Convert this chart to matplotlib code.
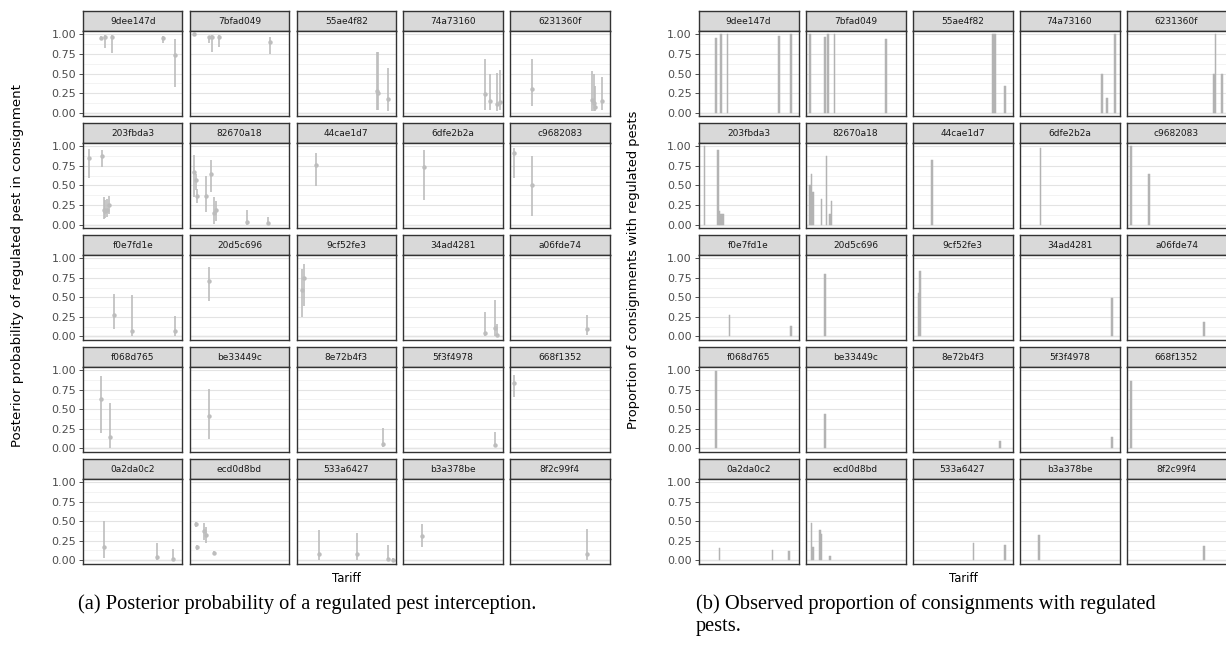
import numpy as np
import matplotlib.pyplot as plt

W, H = 1226, 647

facets = ["9dee147d", "7bfad049", "55ae4f82", "74a73160", "6231360f",
          "203fbda3", "82670a18", "44cae1d7", "6dfe2b2a", "c9682083",
          "f0e7fd1e", "20d5c696", "9cf52fe3", "34ad4281", "a06fde74",
          "f068d765", "be33449c", "8e72b4f3", "5f3f4978", "668f1352",
          "0a2da0c2", "ecd0d8bd", "533a6427", "b3a378be", "8f2c99f4"]
n_tariff = 60

# posterior interception probability: tariff index, median, 95% interval
post_x = {
    "9dee147d": [11, 14, 18, 49, 56],
    "7bfad049": [3, 12, 14, 18, 49],
    "55ae4f82": [49, 50, 56],
    "74a73160": [50, 53, 57, 59],
    "6231360f": [14, 50, 51, 52, 56],
    "203fbda3": [4, 12, 13, 14, 15, 16],
    "82670a18": [3, 4, 5, 10, 13, 15, 16, 35, 48],
    "44cae1d7": [12],
    "6dfe2b2a": [13],
    "c9682083": [3, 14],
    "f0e7fd1e": [19, 30, 56],
    "20d5c696": [12],
    "9cf52fe3": [4, 5],
    "34ad4281": [50, 56, 57],
    "a06fde74": [47],
    "f068d765": [11, 17],
    "be33449c": [12],
    "8e72b4f3": [53],
    "5f3f4978": [56],
    "668f1352": [3],
    "0a2da0c2": [13, 45, 55],
    "ecd0d8bd": [4, 5, 9, 10, 15],
    "533a6427": [14, 37, 56, 59],
    "b3a378be": [12],
    "8f2c99f4": [47],
}
post_mid = {
    "9dee147d": [0.957, 0.97, 0.97, 0.957, 0.736],
    "7bfad049": [1.0, 0.96, 0.96, 0.97, 0.90],
    "55ae4f82": [0.28, 0.255, 0.17],
    "74a73160": [0.24, 0.15, 0.105, 0.13],
    "6231360f": [0.30, 0.16, 0.12, 0.077, 0.15],
    "203fbda3": [0.855, 0.87, 0.19, 0.17, 0.18, 0.25],
    "82670a18": [0.67, 0.57, 0.36, 0.36, 0.65, 0.145, 0.18, 0.034, 0.017],
    "44cae1d7": [0.756],
    "6dfe2b2a": [0.735],
    "c9682083": [0.915, 0.50],
    "f0e7fd1e": [0.28, 0.072, 0.072],
    "20d5c696": [0.71],
    "9cf52fe3": [0.59, 0.75],
    "34ad4281": [0.042, 0.11, 0.017],
    "a06fde74": [0.097],
    "f068d765": [0.635, 0.14],
    "be33449c": [0.41],
    "8e72b4f3": [0.056],
    "5f3f4978": [0.043],
    "668f1352": [0.837],
    "0a2da0c2": [0.17, 0.043, 0.017],
    "ecd0d8bd": [0.46, 0.165, 0.37, 0.32, 0.095],
    "533a6427": [0.086, 0.078, 0.02, 0.005],
    "b3a378be": [0.31],
    "8f2c99f4": [0.086],
}
post_lo = {
    "9dee147d": [0.93, 0.83, 0.76, 0.885, 0.33],
    "7bfad049": [0.99, 0.89, 0.78, 0.84, 0.745],
    "55ae4f82": [0.04, 0.04, 0.025],
    "74a73160": [0.04, 0.03, 0.025, 0.03],
    "6231360f": [0.08, 0.025, 0.025, 0.025, 0.04],
    "203fbda3": [0.60, 0.74, 0.07, 0.085, 0.10, 0.13],
    "82670a18": [0.35, 0.44, 0.27, 0.16, 0.41, 0.01, 0.05, 0.0, 0.0],
    "44cae1d7": [0.49],
    "6dfe2b2a": [0.31],
    "c9682083": [0.59, 0.11],
    "f0e7fd1e": [0.10, 0.01, 0.01],
    "20d5c696": [0.45],
    "9cf52fe3": [0.25, 0.39],
    "34ad4281": [0.01, 0.01, 0.0],
    "a06fde74": [0.02],
    "f068d765": [0.19, 0.01],
    "be33449c": [0.12],
    "8e72b4f3": [0.013],
    "5f3f4978": [0.013],
    "668f1352": [0.66],
    "0a2da0c2": [0.03, 0.0, 0.0],
    "ecd0d8bd": [0.43, 0.13, 0.26, 0.22, 0.07],
    "533a6427": [0.0, 0.0, 0.0, 0.0],
    "b3a378be": [0.17],
    "8f2c99f4": [0.0],
}
post_hi = {
    "9dee147d": [0.98, 0.995, 0.995, 0.98, 0.94],
    "7bfad049": [1.0, 0.98, 0.99, 0.995, 0.96],
    "55ae4f82": [0.78, 0.77, 0.57],
    "74a73160": [0.69, 0.49, 0.51, 0.545],
    "6231360f": [0.68, 0.53, 0.49, 0.34, 0.45],
    "203fbda3": [0.96, 0.95, 0.35, 0.31, 0.33, 0.37],
    "82670a18": [0.885, 0.65, 0.46, 0.615, 0.83, 0.35, 0.30, 0.18, 0.10],
    "44cae1d7": [0.915],
    "6dfe2b2a": [0.95],
    "c9682083": [0.98, 0.875],
    "f0e7fd1e": [0.54, 0.53, 0.26],
    "20d5c696": [0.89],
    "9cf52fe3": [0.86, 0.93],
    "34ad4281": [0.31, 0.47, 0.16],
    "a06fde74": [0.28],
    "f068d765": [0.92, 0.58],
    "be33449c": [0.755],
    "8e72b4f3": [0.26],
    "5f3f4978": [0.215],
    "668f1352": [0.935],
    "0a2da0c2": [0.50, 0.215, 0.14],
    "ecd0d8bd": [0.49, 0.19, 0.48, 0.43, 0.115],
    "533a6427": [0.39, 0.345, 0.19, 0.03],
    "b3a378be": [0.46],
    "8f2c99f4": [0.40],
}

# observed share of consignments with a regulated pest
obs_x = {
    "9dee147d": [11, 14, 18, 49, 56],
    "7bfad049": [3, 12, 14, 18, 49],
    "55ae4f82": [49, 50, 56],
    "74a73160": [50, 53, 58],
    "6231360f": [53, 54, 58],
    "203fbda3": [4, 12, 13, 14, 15],
    "82670a18": [3, 4, 5, 10, 13, 15, 16],
    "44cae1d7": [12],
    "6dfe2b2a": [13],
    "c9682083": [3, 14],
    "f0e7fd1e": [19, 56],
    "20d5c696": [12],
    "9cf52fe3": [4, 5],
    "34ad4281": [56],
    "a06fde74": [47],
    "f068d765": [11],
    "be33449c": [12],
    "8e72b4f3": [53],
    "5f3f4978": [56],
    "668f1352": [3],
    "0a2da0c2": [13, 45, 55],
    "ecd0d8bd": [4, 5, 9, 10, 15],
    "533a6427": [37, 56],
    "b3a378be": [12],
    "8f2c99f4": [47],
}
obs_prop = {
    "9dee147d": [0.95, 1.0, 1.0, 0.98, 1.0],
    "7bfad049": [1.0, 0.97, 1.0, 1.0, 0.94],
    "55ae4f82": [1.0, 1.0, 0.34],
    "74a73160": [0.50, 0.19, 1.0],
    "6231360f": [0.5, 1.0, 0.5],
    "203fbda3": [1.0, 0.95, 0.17, 0.13, 0.13],
    "82670a18": [0.50, 0.64, 0.41, 0.33, 0.87, 0.14, 0.295],
    "44cae1d7": [0.82],
    "6dfe2b2a": [0.98],
    "c9682083": [1.0, 0.65],
    "f0e7fd1e": [0.28, 0.13],
    "20d5c696": [0.80],
    "9cf52fe3": [0.56, 0.84],
    "34ad4281": [0.49],
    "a06fde74": [0.19],
    "f068d765": [0.99],
    "be33449c": [0.44],
    "8e72b4f3": [0.10],
    "5f3f4978": [0.15],
    "668f1352": [0.86],
    "0a2da0c2": [0.16, 0.13, 0.12],
    "ecd0d8bd": [0.475, 0.165, 0.39, 0.34, 0.06],
    "533a6427": [0.22, 0.19],
    "b3a378be": [0.32],
    "8f2c99f4": [0.18],
}

MARK = "#bdbdbd"
BAR = "#b3b3b3"
EDGE = "#333333"


def px_rect(left, top, w, h):
    return [left / W, 1 - (top + h) / H, w / W, h / H]


def facet_grid(fig, col_left, col_pitch, panel_w, draw):
    row_top, row_pitch, strip_h, panel_h = 11, 111.9, 20, 85
    axes = []
    for k, name in enumerate(facets):
        r, c = divmod(k, 5)
        left = col_left + c * col_pitch
        top = row_top + r * row_pitch

        sx = fig.add_axes(px_rect(left, top, panel_w, strip_h))
        sx.set_facecolor("#d9d9d9")
        sx.set_xticks([])
        sx.set_yticks([])
        for s in sx.spines.values():
            s.set_color(EDGE)
            s.set_linewidth(1.0)
        sx.text(0.5, 0.48, name, ha="center", va="center", fontsize=6.5,
                color="#1a1a1a", transform=sx.transAxes)

        ax = fig.add_axes(px_rect(left, top + strip_h, panel_w, panel_h))
        ax.set_xlim(0.4, n_tariff + 0.6)
        ax.set_ylim(-0.043, 1.043)
        ax.set_yticks([0, 0.25, 0.5, 0.75, 1.0])
        ax.set_yticks([0.125, 0.375, 0.625, 0.875], minor=True)
        ax.set_xticks([])
        ax.grid(which="major", axis="y", color="#e3e3e3", lw=0.8)
        ax.grid(which="minor", axis="y", color="#eeeeee", lw=0.5)
        ax.axhline(0, color="#c8c8c8", lw=0.9, zorder=0.5)
        ax.set_axisbelow(True)
        for s in ax.spines.values():
            s.set_color(EDGE)
            s.set_linewidth(1.0)
        ax.tick_params(axis="y", which="minor", left=False)
        if c == 0:
            ax.tick_params(axis="y", which="major", length=3, width=0.6,
                           color=EDGE, labelsize=8, labelcolor="#4d4d4d", pad=2)
            ax.set_yticklabels(["0.00", "0.25", "0.50", "0.75", "1.00"])
        else:
            ax.tick_params(axis="y", which="major", left=False, labelleft=False)
        draw(ax, name)
        axes.append(ax)
    return axes


def draw_post(ax, name):
    ax.vlines(post_x[name], post_lo[name], post_hi[name], color=MARK, lw=1.2)
    ax.plot(post_x[name], post_mid[name], "o", color=MARK, ms=3.2, mew=0)


def draw_obs(ax, name):
    ax.bar(obs_x[name], obs_prop[name], width=0.9, color=BAR,
           edgecolor=BAR, lw=0.35)


fig = plt.figure(figsize=(W / 100, H / 100), dpi=100)
fig.patch.set_facecolor("white")

facet_grid(fig, 83, 106.75, 99.5, draw_post)
facet_grid(fig, 698.5, 107, 100, draw_obs)

fig.text(18 / W, 1 - 266 / H, "Posterior probability of regulated pest in consignment",
         rotation=90, ha="center", va="center", fontsize=9.6)
fig.text(634 / W, 1 - 270 / H, "Proportion of consignments with regulated pests",
         rotation=90, ha="center", va="center", fontsize=9.4)
fig.text(346 / W, 1 - 578 / H, "Tariff", ha="center", va="center", fontsize=8.4)
fig.text(963 / W, 1 - 578 / H, "Tariff", ha="center", va="center", fontsize=8.4)

cap = dict(fontsize=14.7, family="Liberation Serif", va="center")
fig.text(307 / W, 1 - 604 / H,
         "(a) Posterior probability of a regulated pest interception.",
         ha="center", **cap)
fig.text(696 / W, 1 - 604 / H,
         "(b) Observed proportion of consignments with regulated",
         ha="left", **cap)
fig.text(696 / W, 1 - 627 / H, "pests.", ha="left", **cap)

fig.savefig("out.png", dpi=100)
